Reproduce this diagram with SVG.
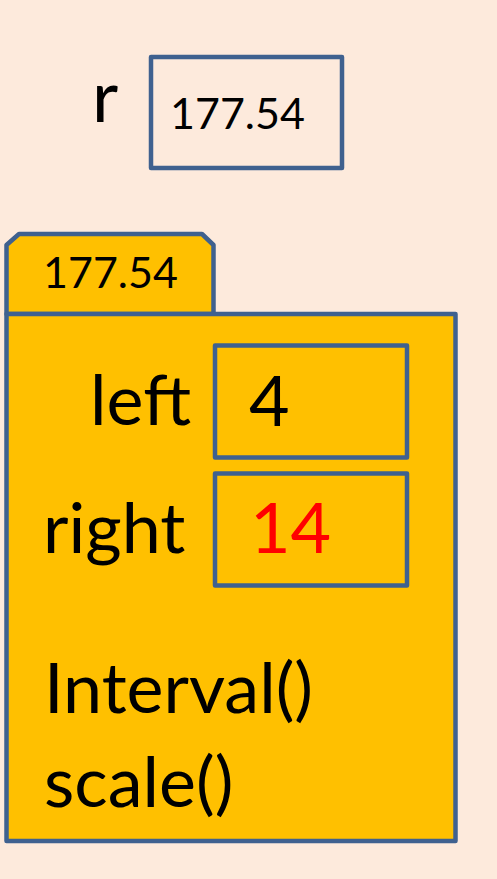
<svg xmlns="http://www.w3.org/2000/svg" width="497" height="879" viewBox="0 0 497 879">
<style>
.box{fill:#FFC000;stroke:#3F618F;stroke-width:4.5;stroke-linejoin:round}
.vbox{fill:none;stroke:#3F618F;stroke-width:4.5;stroke-linejoin:round}
.t{font-family:Lato,"Open Sans","Liberation Sans",sans-serif;fill:#000}
.big{font-size:70px}
.sm{font-size:43px}
</style>
<rect x="0" y="0" width="497" height="879" fill="#FDEADC"/>
<g id="var-r">
<text class="t" x="92" y="122" font-size="72">r</text>
<rect x="151" y="57" width="191" height="111" fill="none" stroke="#3F618F" stroke-width="4.5" stroke-linejoin="round"/>
<text class="t sm" x="170" y="129">177.54</text>
</g>
<g id="object">
<polygon class="box" points="6.5,314 6.5,245 19,234 202,234 213.5,245 213.5,314"/>
<text class="t sm" x="43" y="288">177.54</text>
<rect class="box" x="6.5" y="314" width="449" height="527"/>
</g>
<g id="field-left">
<text class="t big" x="90" y="425">left</text>
<rect class="vbox" x="215" y="345.5" width="192" height="112"/>
<text class="t big" x="249" y="426">4</text>
</g>
<g id="field-right">
<text class="t big" x="43" y="553">right</text>
<rect class="vbox" x="215" y="473.5" width="192" height="112"/>
<text class="t big" x="250" y="553" style="fill:#FF0000">14</text>
</g>
<g id="methods">
<text class="t big" x="44" y="713">Interval()</text>
<text class="t big" x="44" y="807">scale()</text>
</g>
<g id="connectors"></g>
</svg>
